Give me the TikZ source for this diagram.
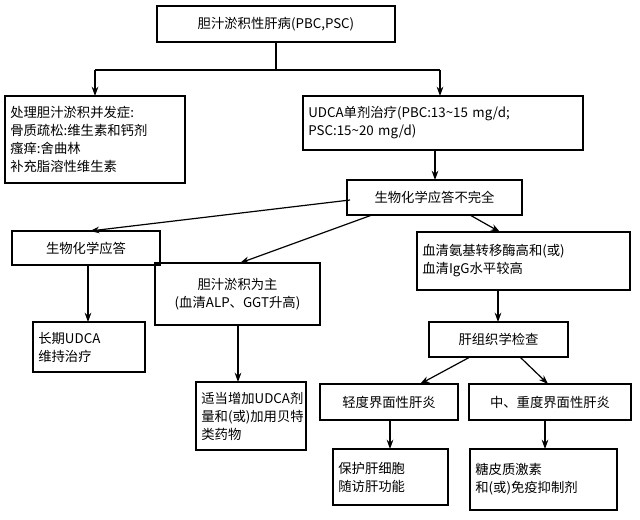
\documentclass[tikz,border=0pt]{standalone}
\usepackage{fontspec}
\setmainfont{Noto Sans CJK SC}
\usetikzlibrary{arrows.meta}
\begin{document}
\begin{tikzpicture}[x=0.75pt,y=-0.75pt,
  bx/.style={font=\fontsize{10}{13.5}\selectfont,inner sep=0pt},
  ar/.style={-{Stealth[length=7pt,width=5pt]},line width=0.9pt}]
\useasboundingbox (0,0) rectangle (640,519);
\newcommand\bxx[7]{\draw[line width=0.9pt] (#2,#3) rectangle (#4,#5); \node[bx,align=#7,text width={(#4-#2)*0.75pt-8pt}] (#1) at ({(#2+#4)/2},{(#3+#5)/2}) {#6};}
\bxx{a}{157}{6}{395}{42}{胆汁淤积性肝病(PBC,PSC)}{center}
\bxx{b}{5}{96}{185}{183}{处理胆汁淤积并发症:\\骨质疏松:维生素和钙剂\\瘙痒:舍曲林\\补充脂溶性维生素}{left}
\bxx{c}{303}{96}{583}{150}{UDCA单剂治疗(PBC:13\textasciitilde15 mg/d;\\PSC:15\textasciitilde20 mg/d)}{left}
\bxx{d}{347}{180}{522}{215}{生物化学应答不完全}{center}
\bxx{e}{12}{231}{160}{265}{生物化学应答}{center}
\bxx{f}{155}{263}{320}{325}{胆汁淤积为主\\(血清ALP、GGT升高)}{center}
\bxx{g}{417}{232}{630}{290}{血清氨基转移酶高和(或)\\血清IgG水平较高}{left}
\bxx{h}{33}{322}{145}{372}{长期UDCA\\维持治疗}{left}
\bxx{i}{429}{322}{568}{357}{肝组织学检查}{center}
\bxx{j}{196}{382}{306}{450}{适当增加UDCA剂\\量和(或)加用贝特\\类药物}{left}
\bxx{k}{320}{384}{458}{420}{轻度界面性肝炎}{center}
\bxx{l}{469}{384}{631}{420}{中、重度界面性肝炎}{center}
\bxx{m}{333}{449}{448}{505}{保护肝细胞\\随访肝功能}{left}
\bxx{n}{470}{449}{617}{510}{糖皮质激素\\和(或)免疫抑制剂}{left}
\coordinate (j1) at (276,70); \coordinate (j2) at (95,70); \coordinate (j3) at (440,70);
\draw[line width=0.9pt] (276,42) -- (j1) (j2) -- (j3);
\draw[ar] (j2) -- (95,96);
\draw[ar] (j3) -- (440,96);
\draw[ar] (435,150) -- (435,180);
\draw[ar] (350,200) -- (90,231);
\draw[ar] (372,215) -- (240,263);
\draw[ar] (470,215) -- (500,232);
\draw[ar] (88,265) -- (88,322);
\draw[ar] (238,325) -- (238,382);
\draw[ar] (498,290) -- (498,322);
\draw[ar] (470,357) -- (420,384);
\draw[ar] (520,357) -- (548,384);
\draw[ar] (390,420) -- (390,449);
\draw[ar] (545,420) -- (545,449);
\end{tikzpicture}
\end{document}
